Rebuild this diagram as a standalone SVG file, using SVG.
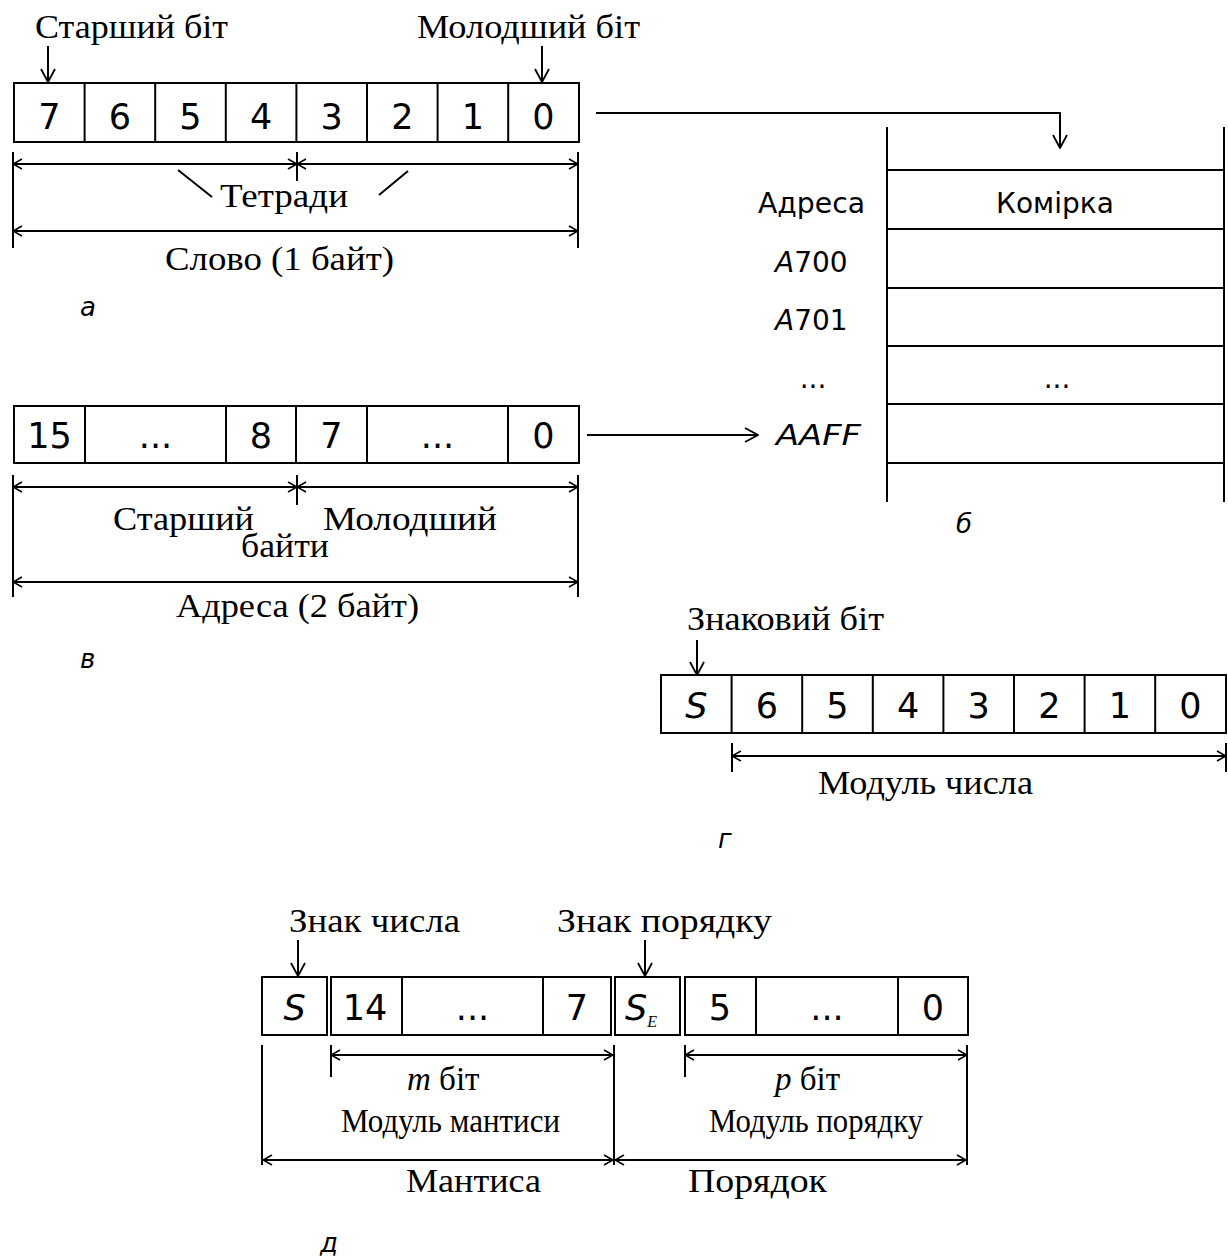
<svg xmlns="http://www.w3.org/2000/svg" width="1228" height="1259" viewBox="0 0 1228 1259">
<style>
.ln{stroke:#000;stroke-width:2;fill:none}
.bx{stroke:#000;stroke-width:2;fill:#fff}
.sr{font-family:"Liberation Serif","Times New Roman",serif;font-size:33px;fill:#000}
.ss{font-family:"DejaVu Sans","Verdana",sans-serif;font-size:28px;fill:#000}
.dg{font-family:"DejaVu Sans","Verdana",sans-serif;font-size:35px;fill:#000;text-anchor:middle}
.it{font-family:"DejaVu Sans","Verdana",sans-serif;font-style:italic;font-size:26px;fill:#000}
.si{font-family:"Liberation Serif","Times New Roman",serif;font-style:italic}
</style>
<defs>
<marker id="ah" viewBox="0 0 12 12" refX="11" refY="6" markerWidth="12" markerHeight="12" markerUnits="userSpaceOnUse" orient="auto-start-reverse">
<path d="M2,1 L11,6 L2,11" fill="none" stroke="#000" stroke-width="1.6"/>
</marker>
<marker id="ahv" viewBox="0 0 16 16" refX="15" refY="8" markerWidth="16" markerHeight="16" markerUnits="userSpaceOnUse" orient="auto">
<path d="M2,1 L15,8 L2,15" fill="none" stroke="#000" stroke-width="1.8"/>
</marker>
</defs>

<g id="connectors">
<polyline class="ln" points="596,113 1060,113 1060,148" marker-end="url(#ahv)"/>
<line class="ln" x1="587" y1="435" x2="758" y2="435" marker-end="url(#ahv)"/>
</g>

<g id="section-a">
<text class="sr" x="35" y="38" textLength="193" lengthAdjust="spacingAndGlyphs">Старший біт</text>
<text class="sr" x="417" y="38" textLength="223" lengthAdjust="spacingAndGlyphs">Молодший біт</text>
<line class="ln" x1="48" y1="46" x2="48" y2="82" marker-end="url(#ahv)"/>
<line class="ln" x1="542" y1="46" x2="542" y2="82" marker-end="url(#ahv)"/>
<rect class="bx" x="14" y="83" width="565" height="59"/>
<path class="ln" d="M84.6,83V142M155.2,83V142M225.8,83V142M296.4,83V142M367,83V142M437.6,83V142M508.2,83V142"/>
<text class="dg" x="49.3" y="129">7</text>
<text class="dg" x="119.9" y="129">6</text>
<text class="dg" x="190.5" y="129">5</text>
<text class="dg" x="261.1" y="129">4</text>
<text class="dg" x="331.7" y="129">3</text>
<text class="dg" x="402.3" y="129">2</text>
<text class="dg" x="472.9" y="129">1</text>
<text class="dg" x="543.5" y="129">0</text>
<path class="ln" d="M13,152V248M297,152V181M578,152V248"/>
<line class="ln" x1="13" y1="164" x2="297" y2="164" marker-start="url(#ah)" marker-end="url(#ah)"/>
<line class="ln" x1="297" y1="164" x2="578" y2="164" marker-start="url(#ah)" marker-end="url(#ah)"/>
<path class="ln" d="M178,170L212,197M408,171L379,195" stroke-width="1.5"/>
<text class="sr" x="220" y="207" textLength="128" lengthAdjust="spacingAndGlyphs">Тетради</text>
<line class="ln" x1="13" y1="231" x2="578" y2="231" marker-start="url(#ah)" marker-end="url(#ah)"/>
<text class="sr" x="165" y="270" textLength="229" lengthAdjust="spacingAndGlyphs">Слово (1 байт)</text>
<text class="it" x="80" y="316">а</text>
</g>

<g id="section-b">
<path class="ln" d="M887,127V502M1224,127V502"/>
<path class="ln" d="M887,170H1224M887,229H1224M887,288H1224M887,346H1224M887,404H1224M887,463H1224"/>
<text class="ss" x="758" y="213" textLength="107" lengthAdjust="spacingAndGlyphs">Адреса</text>
<text class="ss" x="1055" y="213" text-anchor="middle">Комірка</text>
<text class="ss" x="775" y="272"><tspan font-style="italic">A</tspan>700</text>
<text class="ss" x="775" y="330"><tspan font-style="italic">A</tspan>701</text>
<text class="ss" x="813" y="388" text-anchor="middle">...</text>
<text class="ss" x="1057" y="388" text-anchor="middle">...</text>
<text class="ss" x="776" y="445" font-style="italic" textLength="85" lengthAdjust="spacingAndGlyphs">AAFF</text>
<text class="it" x="956" y="533">б</text>
</g>

<g id="section-v">
<rect class="bx" x="14" y="406" width="565" height="57"/>
<path class="ln" d="M85,406V463M226,406V463M296,406V463M367,406V463M508,406V463"/>
<text class="dg" x="49.5" y="448">15</text>
<text class="dg" x="155.5" y="448">...</text>
<text class="dg" x="261" y="448">8</text>
<text class="dg" x="331.5" y="448">7</text>
<text class="dg" x="437.5" y="448">...</text>
<text class="dg" x="543.5" y="448">0</text>
<path class="ln" d="M13,475V597M297,475V505M578,475V597"/>
<line class="ln" x1="13" y1="487" x2="297" y2="487" marker-start="url(#ah)" marker-end="url(#ah)"/>
<line class="ln" x1="297" y1="487" x2="578" y2="487" marker-start="url(#ah)" marker-end="url(#ah)"/>
<text class="sr" x="113" y="530" textLength="141" lengthAdjust="spacingAndGlyphs">Старший</text>
<text class="sr" x="323" y="530" textLength="174" lengthAdjust="spacingAndGlyphs">Молодший</text>
<text class="sr" x="241" y="557" textLength="88" lengthAdjust="spacingAndGlyphs">байти</text>
<line class="ln" x1="13" y1="582" x2="578" y2="582" marker-start="url(#ah)" marker-end="url(#ah)"/>
<text class="sr" x="176" y="617" textLength="243" lengthAdjust="spacingAndGlyphs">Адреса (2 байт)</text>
<text class="it" x="80" y="668">в</text>
</g>

<g id="section-g">
<text class="sr" x="687" y="630" textLength="197" lengthAdjust="spacingAndGlyphs">Знаковий біт</text>
<line class="ln" x1="697" y1="640" x2="697" y2="675" marker-end="url(#ahv)"/>
<rect class="bx" x="661" y="675" width="565" height="58"/>
<path class="ln" d="M731.6,675V733M802.2,675V733M872.8,675V733M943.4,675V733M1014,675V733M1084.6,675V733M1155.2,675V733"/>
<text class="dg" x="696.3" y="718" font-style="italic">S</text>
<text class="dg" x="766.9" y="718">6</text>
<text class="dg" x="837.5" y="718">5</text>
<text class="dg" x="908.1" y="718">4</text>
<text class="dg" x="978.7" y="718">3</text>
<text class="dg" x="1049.3" y="718">2</text>
<text class="dg" x="1119.9" y="718">1</text>
<text class="dg" x="1190.5" y="718">0</text>
<path class="ln" d="M732,743V772M1226,743V772"/>
<line class="ln" x1="732" y1="756" x2="1226" y2="756" marker-start="url(#ah)" marker-end="url(#ah)"/>
<text class="sr" x="818" y="794" textLength="215" lengthAdjust="spacingAndGlyphs">Модуль числа</text>
<text class="it" x="718" y="848">г</text>
</g>

<g id="section-d">
<text class="sr" x="289" y="932" textLength="171" lengthAdjust="spacingAndGlyphs">Знак числа</text>
<text class="sr" x="557" y="932" textLength="215" lengthAdjust="spacingAndGlyphs">Знак порядку</text>
<line class="ln" x1="298" y1="940" x2="298" y2="976" marker-end="url(#ahv)"/>
<line class="ln" x1="645" y1="940" x2="645" y2="976" marker-end="url(#ahv)"/>
<rect class="bx" x="262" y="977" width="65" height="58"/>
<rect class="bx" x="331" y="977" width="280" height="58"/>
<rect class="bx" x="615" y="977" width="65" height="58"/>
<rect class="bx" x="685" y="977" width="283" height="58"/>
<path class="ln" d="M402,977V1035M543,977V1035M756,977V1035M898,977V1035"/>
<text class="dg" x="294.5" y="1020" font-style="italic">S</text>
<text class="dg" x="365" y="1020">14</text>
<text class="dg" x="472.5" y="1020">...</text>
<text class="dg" x="577" y="1020">7</text>
<text class="dg" x="641" y="1020" font-style="italic">S<tspan class="si" font-size="16" dy="7">E</tspan></text>
<text class="dg" x="720" y="1020">5</text>
<text class="dg" x="827" y="1020">...</text>
<text class="dg" x="933" y="1020">0</text>
<path class="ln" d="M262,1045V1165M331,1045V1077M614,1045V1165M685,1045V1077M967,1045V1165"/>
<line class="ln" x1="331" y1="1055" x2="613" y2="1055" marker-start="url(#ah)" marker-end="url(#ah)"/>
<line class="ln" x1="685" y1="1055" x2="967" y2="1055" marker-start="url(#ah)" marker-end="url(#ah)"/>
<text class="sr" x="407" y="1090"><tspan class="si">m</tspan> біт</text>
<text class="sr" x="775" y="1090"><tspan class="si">p</tspan> біт</text>
<text class="sr" x="341" y="1132" textLength="219" lengthAdjust="spacingAndGlyphs" font-size="29">Модуль мантиси</text>
<text class="sr" x="709" y="1132" textLength="214" lengthAdjust="spacingAndGlyphs" font-size="29">Модуль порядку</text>
<line class="ln" x1="263" y1="1160" x2="613" y2="1160" marker-start="url(#ah)" marker-end="url(#ah)"/>
<line class="ln" x1="615" y1="1160" x2="966" y2="1160" marker-start="url(#ah)" marker-end="url(#ah)"/>
<text class="sr" x="406" y="1192" textLength="135" lengthAdjust="spacingAndGlyphs">Мантиса</text>
<text class="sr" x="688" y="1192" textLength="139" lengthAdjust="spacingAndGlyphs">Порядок</text>
<text class="it" x="320" y="1252">д</text>
</g>
</svg>
